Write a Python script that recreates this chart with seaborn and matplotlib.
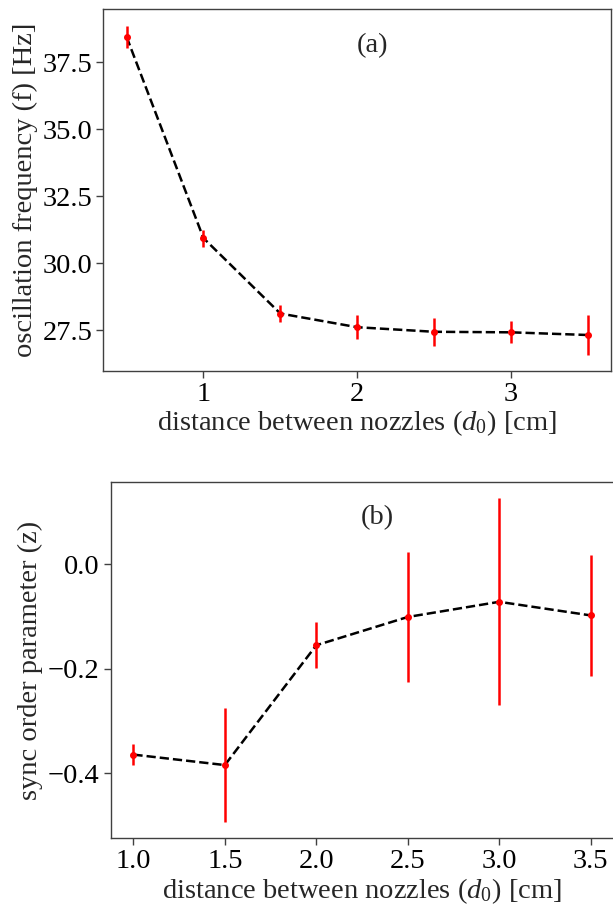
import matplotlib
matplotlib.use("Agg")
import matplotlib.pyplot as plt
import seaborn as sns
import pandas as pd

# ---- data ----
dist_a = [0.5, 1.0, 1.5, 2.0, 2.5, 3.0, 3.5]
freq_a = [38.44, 30.94, 28.13, 27.62, 27.45, 27.43, 27.33]
freq_err = [0.41, 0.32, 0.30, 0.45, 0.52, 0.41, 0.73]

dist_b = [1.0, 1.5, 2.0, 2.5, 3.0, 3.5]
sync_b = [-0.364, -0.384, -0.155, -0.101, -0.072, -0.098]
sync_err = [0.020, 0.109, 0.044, 0.124, 0.198, 0.115]

xticks_a = [1, 2, 3]
yticks_a = [27.5, 30.0, 32.5, 35.0, 37.5]
xticks_b = [1.0, 1.5, 2.0, 2.5, 3.0, 3.5]
yticks_b = [-0.4, -0.2, 0.0]

xlabel = r"distance between nozzles ($d_0$) [cm]"
ylabel_a = "oscillation frequency (f) [Hz]"
ylabel_b = "sync order parameter (z)"

sns.set_style("ticks")
plt.rcParams["font.family"] = ["Liberation Serif", "DejaVu Serif"]
plt.rcParams["mathtext.fontset"] = "custom"
plt.rcParams["mathtext.rm"] = "Liberation Serif"
plt.rcParams["mathtext.it"] = "Liberation Serif:italic"
plt.rcParams["axes.edgecolor"] = "0.25"
plt.rcParams["xtick.color"] = "0.25"
plt.rcParams["ytick.color"] = "0.25"
plt.rcParams["xtick.labelcolor"] = "black"
plt.rcParams["ytick.labelcolor"] = "black"

FS = 20.5

fig = plt.figure(figsize=(6.13, 9.05), dpi=100)
ax1 = fig.add_axes([0.1688, 0.590, 0.828, 0.3997])
ax2 = fig.add_axes([0.1803, 0.0737, 0.8206, 0.3937])

def panel(ax, x, y, err, xt, yt, ylab, tag, fmt):
    df = pd.DataFrame({"x": x, "y": y})
    sns.lineplot(data=df, x="x", y="y", ax=ax, color="black",
                 linestyle="--", linewidth=1.8, zorder=2)
    ax.errorbar(x, y, yerr=err, fmt="o", color="red", ms=4,
                elinewidth=1.8, capsize=0, zorder=3)
    ax.set_xticks(xt)
    ax.set_yticks(yt)
    ax.xaxis.set_major_formatter(matplotlib.ticker.FormatStrFormatter(fmt))
    ax.set_xlabel(xlabel, fontsize=FS, labelpad=1)
    ax.set_ylabel(ylab, fontsize=FS, labelpad=3)
    ax.tick_params(labelsize=FS, length=5, width=1, direction="out", pad=3)
    ax.text(0.53, 0.90, tag, transform=ax.transAxes, ha="center",
            va="center", fontsize=FS)
    for s in ax.spines.values():
        s.set_visible(True)
        s.set_linewidth(1.0)

panel(ax1, dist_a, freq_a, freq_err, xticks_a, yticks_a, ylabel_a, "(a)", "%g")
panel(ax2, dist_b, sync_b, sync_err, xticks_b, yticks_b, ylabel_b, "(b)", "%.1f")

fig.savefig("out.png", dpi=100)
